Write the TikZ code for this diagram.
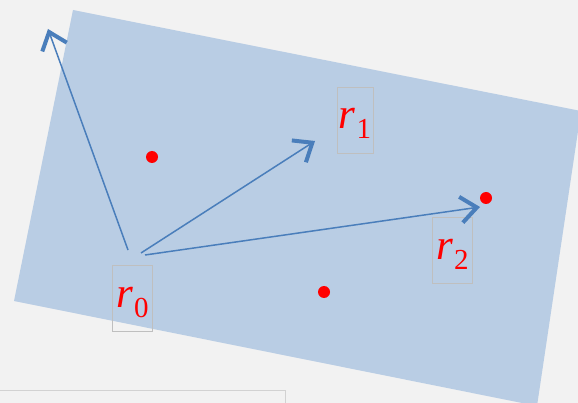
\documentclass[tikz,border=0pt]{standalone}
\usepackage{fontspec}
\setmainfont{Liberation Serif}
\usepackage{tikz}
\usetikzlibrary{arrows.meta}
\definecolor{bgGray}{RGB}{242,242,242}
\definecolor{planeBlue}{RGB}{185,205,228}
\definecolor{vecBlue}{RGB}{74,126,187}
\newcommand{\rlab}[1]{\textit{r}\kern1pt\raisebox{-10pt}{\fontsize{29}{30}\selectfont #1}}

\begin{document}
\begin{tikzpicture}[x=1pt,y=-1pt,
  vec/.style={draw=vecBlue,line width=1.5pt,-{Straight Barb[length=16pt,width=26pt,line width=4pt]}},
  lbl/.style={draw=gray!50,line width=0.9pt,text=red,inner xsep=0pt,inner ysep=0pt,text height=42pt,text depth=24pt,minimum width=40pt,font=\fontsize{43}{46}\selectfont},
  dot/.style={circle,fill=red,inner sep=0pt,minimum size=12pt}]
% background
\fill[bgGray] (0,0) rectangle (578,403);
\useasboundingbox (0,0) rectangle (578,403);
% tilted plane
\fill[planeBlue] (73,10) -- (581,111) -- (537,406) -- (14,301) -- cycle;
% edge of a box below
\draw[gray!35,line width=1pt] (0,390) -- (285,390) -- (285,403);
% labels
\node[lbl] (r0) at (132.5,298.5) {\rlab{0}};
\node[lbl,minimum width=36pt] (r1) at (355,120) {\rlab{1}};
\node[lbl] (r2) at (452.5,250.5) {\rlab{2}};
% vectors
\coordinate (o1) at (128,250);
\coordinate (o2) at (141,253);
\coordinate (o3) at (145,255);
\coordinate (t1) at (48,29);
\coordinate (t2) at (315,141);
\coordinate (t3) at (480,207);
\draw[vec] (o1) -- (t1);
\draw[vec] (o2) -- (t2);
\draw[vec] (o3) -- (t3);
% points
\node[dot] (p1) at (152,157) {};
\node[dot] (p2) at (486,198) {};
\node[dot] (p3) at (324,292) {};
\end{tikzpicture}
\end{document}
